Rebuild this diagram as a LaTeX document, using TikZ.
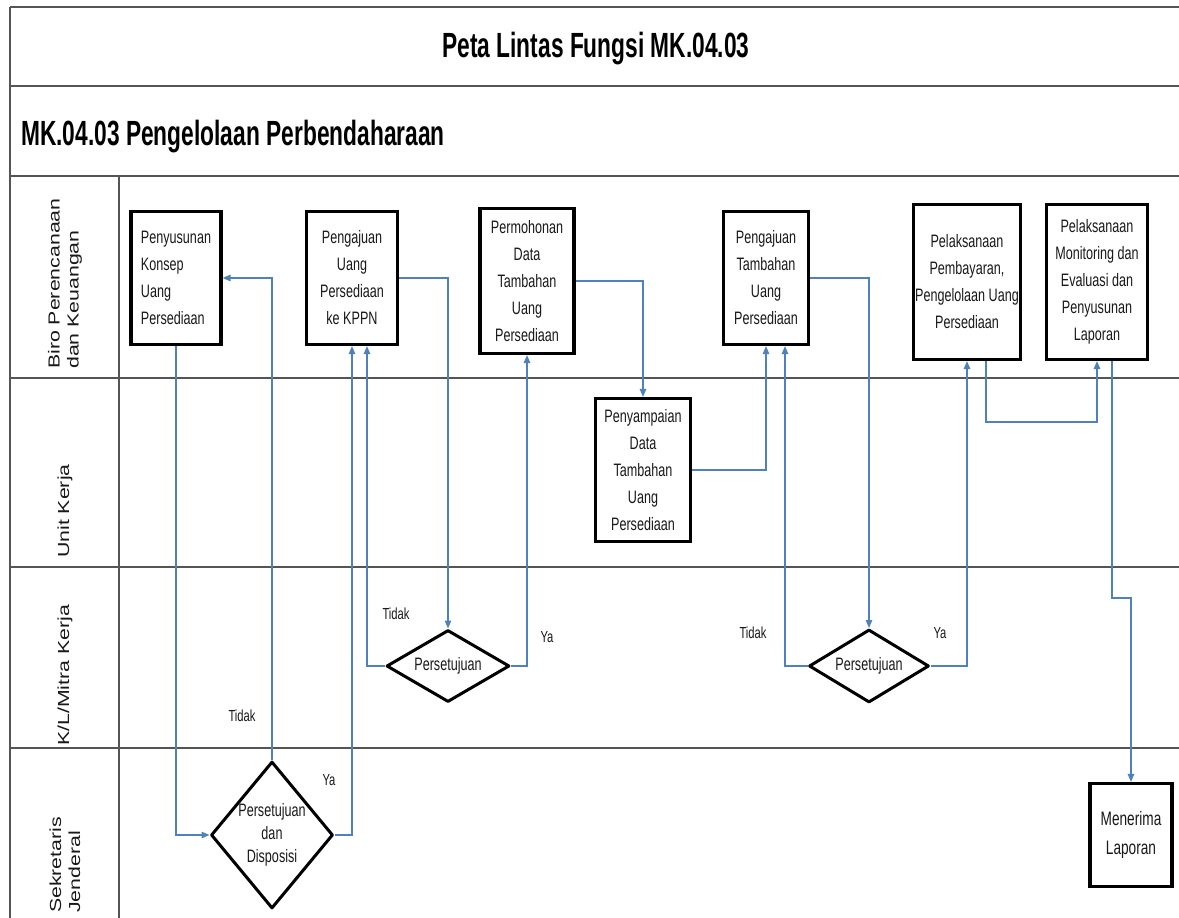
\documentclass[tikz,border=0pt]{standalone}
\usepackage{fontspec}
\setmainfont{Liberation Sans}
\newfontfamily\narrowfont[FakeStretch=0.7]{Liberation Sans}
\newfontfamily\headfont[FakeStretch=0.65]{Liberation Sans}
\newfontfamily\lanefont[FakeStretch=1.33]{Liberation Sans}
\usetikzlibrary{arrows.meta,shapes.geometric}
\definecolor{flow}{RGB}{79,129,189}
\definecolor{framegray}{RGB}{85,85,85}
\definecolor{ink}{RGB}{25,25,25}
\begin{document}
\begin{tikzpicture}[x=1pt,y=-1pt,
 frameline/.style={draw=framegray,line width=2.2pt},
 procbox/.style={draw=black,line width=3.2pt,inner sep=0pt,align=center,text=ink,font=\narrowfont\fontsize{18}{27}\selectfont},
 decision/.style={draw=black,line width=3pt,shape=diamond,inner sep=0pt,line join=round},
 dtext/.style={align=center,text=ink,font=\narrowfont\fontsize{18}{23}\selectfont,inner sep=0pt},
 conn/.style={draw=flow,line width=1.3pt,-{Triangle[length=8pt,width=6.5pt]}},
 branch/.style={text=ink,font=\narrowfont\fontsize{16}{18}\selectfont,inner sep=0pt},
 lane/.style={rotate=90,anchor=west,align=left,text=ink,font=\lanefont\fontsize{16}{19}\selectfont,inner sep=0pt},
 headtext/.style={inner sep=0pt,text=black,font=\headfont\bfseries\fontsize{35}{40}\selectfont}
]
\useasboundingbox (0,0) rectangle (1179,918);
\fill[white] (0,0) rectangle (1179,918);

% frame
\draw[frameline] (10,7) -- (1179,7);
\draw[frameline] (10,86) -- (1179,86);
\draw[frameline] (10,176) -- (1179,176);
\draw[frameline] (10,378) -- (1179,378);
\draw[frameline] (10,567) -- (1179,567);
\draw[frameline] (10,748) -- (1179,748);
\draw[frameline] (10,7) -- (10,918);
\draw[frameline,line width=1.5pt] (119,176) -- (119,918);

% headings
\node[headtext,anchor=base] (title) at (596,57) {Peta Lintas Fungsi MK.04.03};
\node[headtext,anchor=base west] (subtitle) at (21,145) {MK.04.03 Pengelolaan Perbendaharaan};

% lane labels
\node[lane] (l1) at (65,369) {Biro Perencanaan\\dan Keuangan};
\node[lane] (l2) at (65,558) {Unit Kerja};
\node[lane] (l3) at (65,746) {K/L/Mitra Kerja};
\node[lane] (l4) at (65,913) {Sekretaris\\Jenderal};

% process boxes
\node[procbox,align=left,minimum width=90pt,minimum height=133pt] (b1) at (176,278) {Penyusunan\\Konsep\\Uang\\Persediaan};
\node[procbox,minimum width=91pt,minimum height=133pt] (b2) at (352,278) {Pengajuan\\Uang\\Persediaan\\ke KPPN};
\node[procbox,minimum width=94pt,minimum height=145pt] (b3) at (527,281) {Permohonan\\Data\\Tambahan\\Uang\\Persediaan};
\node[procbox,minimum width=85pt,minimum height=133pt] (b4) at (766,278) {Pengajuan\\Tambahan\\Uang\\Persediaan};
\node[procbox,minimum width=107pt,minimum height=155pt] (b5) at (967,282) {Pelaksanaan\\Pembayaran,\\Pengelolaan Uang\\Persediaan};
\node[procbox,minimum width=101pt,minimum height=155pt] (b6) at (1097,282) {Pelaksanaan\\Monitoring dan\\Evaluasi dan\\Penyusunan\\Laporan};
\node[procbox,minimum width=95pt,minimum height=143pt] (b7) at (643,470) {Penyampaian\\Data\\Tambahan\\Uang\\Persediaan};
\node[procbox,minimum width=82pt,minimum height=103pt,font=\narrowfont\fontsize{19.5}{29}\selectfont] (b8) at (1131,835) {Menerima\\Laporan};

% decisions
\node[decision,minimum width=123pt,minimum height=72pt] (d1) at (448,666) {};
\node[dtext] (d1t) at (d1) {Persetujuan};
\node[decision,minimum width=120pt,minimum height=73pt] (d2) at (869,666) {};
\node[dtext] (d2t) at (d2) {Persetujuan};
\node[decision,minimum width=122pt,minimum height=147pt] (d3) at (272,835) {};
\node[dtext] (d3t) at (d3) {Persetujuan\\dan\\Disposisi};

% branch labels
\node[branch] (t1) at (242,716) {Tidak};
\node[branch] (y1) at (329,780) {Ya};
\node[branch] (t2) at (396,614) {Tidak};
\node[branch] (y2) at (547,637) {Ya};
\node[branch] (t3) at (753,633) {Tidak};
\node[branch] (y3) at (940,633) {Ya};

% connectors
\draw[conn] (b1.south) |- (d3.west);
\draw[conn] (d3.north) |- (b1.east);
\draw[conn] (d3.east) -| (b2.south);
\draw[conn] (b2.east) -| (d1.north);
\draw[conn] (d1.west) -| ([xshift=15pt]b2.south);
\draw[conn] (d1.east) -| (b3.south);
\draw[conn] (b3.east) -| (b7.north);
\draw[conn] (b7.east) -| (b4.south);
\draw[conn] (b4.east) -| (d2.north);
\draw[conn] (d2.west) -| ([xshift=19pt]b4.south);
\draw[conn] (d2.east) -| (b5.south);
\coordinate (j1) at (986,422);
\draw[conn] ([xshift=19pt]b5.south) -- (j1) -| (b6.south);
\coordinate (j2) at (1112,598);
\draw[conn] ([xshift=15pt]b6.south) -- (j2) -| (b8.north);
\end{tikzpicture}
\end{document}
